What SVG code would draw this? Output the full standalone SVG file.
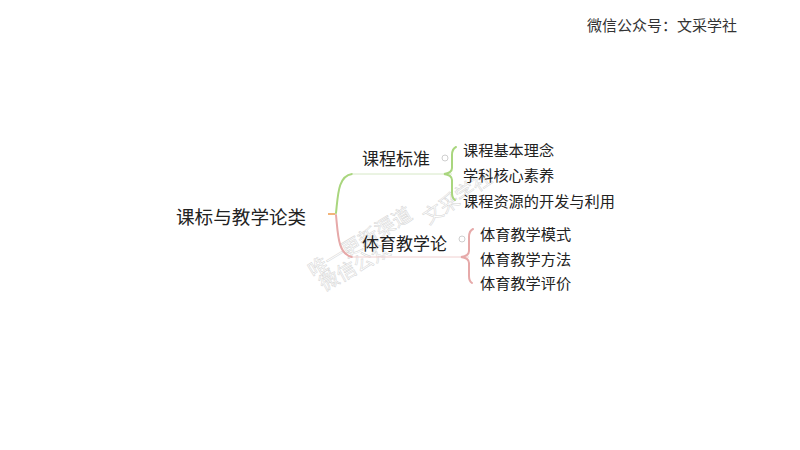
<svg xmlns="http://www.w3.org/2000/svg" width="800" height="450" viewBox="0 0 800 450">
<style>
text{font-family:"Microsoft YaHei","Noto Sans CJK SC","Noto Sans",sans-serif;fill:#222;dominant-baseline:central}
.root{font-size:18.6px}
.main{font-size:17px}
.sub{font-size:15.2px}
.hdr{font-size:15px;fill:#333}
.wm{font-size:19.5px;fill:none;stroke:#d4d4d4;stroke-width:0.5}
.g{stroke:#a9d67e;fill:none;stroke-width:2;stroke-linecap:round}
.r{stroke:#e6a9a9;fill:none;stroke-width:2;stroke-linecap:round}
.gl{stroke:#d6e8c6;fill:none;stroke-width:1}
.rl{stroke:#f0d0d0;fill:none;stroke-width:1}
.dot{fill:#fff;stroke:#cfcfcf;stroke-width:1}
</style>
<rect width="800" height="450" fill="#fff"/>
<text class="hdr" x="587" y="24">微信公众号：文采学社</text>
<g id="watermark">
<text class="wm" transform="translate(309,271) rotate(-31)" x="0" y="0">唯一更新渠道</text>
<text class="wm" transform="translate(424,218) rotate(-34)" x="0" y="0">文采学社</text>
<text class="wm" transform="translate(320,284) rotate(-29)" x="0" y="0">微信公众</text>
</g>
<g id="connectors">
<path d="M328,214 L335,214" stroke="#f2b47a" stroke-width="2" fill="none"/>
<path class="g" d="M336,213 C338,195 338,176 352,174"/>
<path class="gl" d="M352,174 L452,174"/>
<path class="r" d="M336,215 C338,235 338,254 352,257"/>
<path class="rl" d="M352,257 L469,257"/>
<path class="g" d="M456,147 Q452,149 452,155 L452,168 Q452,173 444,174 Q452,175 452,180 L452,193 Q452,198 455,200"/>
<path class="r" d="M473,229 Q469,231 469,237 L469,251 Q469,256 461,257 Q469,258 469,263 L469,276 Q469,281 472,283"/>
<circle class="dot" cx="445" cy="158" r="3"/>
<circle class="dot" cx="462" cy="239" r="3"/>
</g>
<g id="root"><text class="root" x="176" y="215">课标与教学论类</text></g>
<g id="n1"><text class="main" x="362" y="157">课程标准</text></g>
<g id="n1a"><text class="sub" x="463" y="149">课程基本理念</text></g>
<g id="n1b"><text class="sub" x="463" y="174">学科核心素养</text></g>
<g id="n1c"><text class="sub" x="463" y="200">课程资源的开发与利用</text></g>
<g id="n2"><text class="main" x="362" y="242">体育教学论</text></g>
<g id="n2a"><text class="sub" x="480" y="233">体育教学模式</text></g>
<g id="n2b"><text class="sub" x="480" y="258">体育教学方法</text></g>
<g id="n2c"><text class="sub" x="480" y="282">体育教学评价</text></g>
</svg>
